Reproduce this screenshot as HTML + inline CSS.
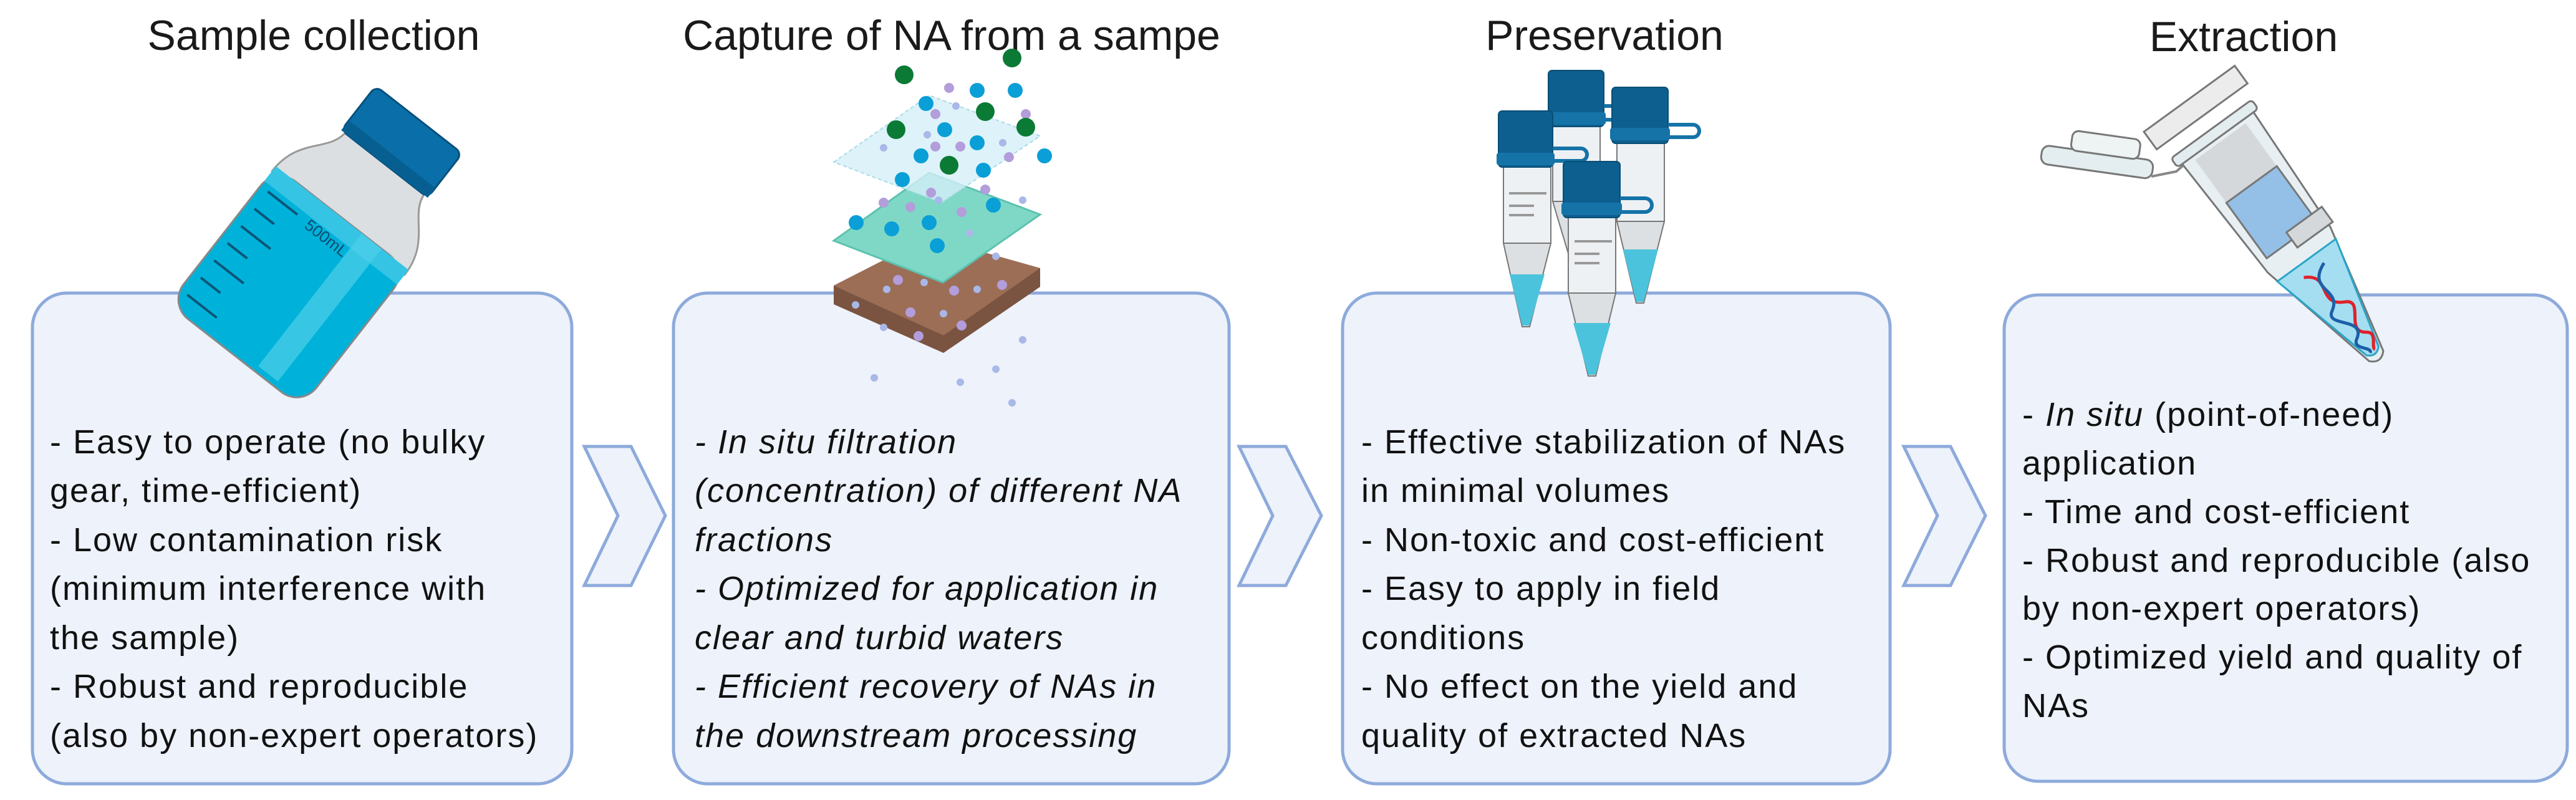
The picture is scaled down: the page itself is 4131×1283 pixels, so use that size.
<!DOCTYPE html>
<html><head><meta charset="utf-8"><style>
html,body{margin:0;padding:0;background:#fff}
svg{display:block}
</style></head><body>
<svg width="4131" height="1283" viewBox="0 0 4131 1283" xmlns="http://www.w3.org/2000/svg">
<rect width="4131" height="1283" fill="#fff"/>
<g font-family="Liberation Sans, sans-serif" font-size="68" fill="#1a1a1a" text-anchor="middle">
<text x="503" y="80">Sample collection</text>
<text x="1526" y="80">Capture of NA from a sampe</text>
<text x="2573" y="80">Preservation</text>
<text x="3598" y="82">Extraction</text>
</g>
<g fill="#edf2fb" stroke="#8eaadb" stroke-width="5">
<rect x="52" y="470" width="865" height="787" rx="55"/>
<rect x="1080" y="470" width="891" height="787" rx="55"/>
<rect x="2153" y="470" width="878" height="787" rx="55"/>
<rect x="3214" y="473" width="903" height="780" rx="55"/>
<polygon points="937,716 1012,716 1067,827 1012,939 937,939 991,827"/>
<polygon points="1987,716 2062,716 2119,827 2062,939 1987,939 2041,827"/>
<polygon points="3053,716 3128,716 3184,827 3128,939 3053,939 3107,827"/>
</g>

<!-- Bottle -->
<g transform="translate(518,389) rotate(38)">
<path d="M-135,-40 C-135,-110 -80,-120 -80,-165 L80,-165 C80,-120 135,-110 135,-40 Z" fill="#dcdfe1" stroke="#999" stroke-width="3"/>
<rect x="-135" y="-50" width="270" height="280" rx="40" fill="#00b2da" stroke="#888" stroke-width="3"/>
<rect x="-135" y="-50" width="270" height="30" fill="#35c4e4"/>
<rect x="40" y="-50" width="40" height="270" fill="#4fd0ea" opacity="0.7"/>
<g stroke="#0a5577" stroke-width="4">
<line x1="-120" y1="-10" x2="-60" y2="-10"/><line x1="-120" y1="25" x2="-80" y2="25"/>
<line x1="-120" y1="60" x2="-60" y2="60"/><line x1="-120" y1="95" x2="-80" y2="95"/>
<line x1="-120" y1="130" x2="-60" y2="130"/><line x1="-120" y1="165" x2="-80" y2="165"/>
<line x1="-120" y1="200" x2="-60" y2="200"/>
</g>
<text x="-40" y="0" font-family="Liberation Sans, sans-serif" font-size="26" fill="#0a4d70">500mL</text>
<rect x="-88" y="-250" width="176" height="90" rx="12" fill="#0a6fa8" stroke="#07507a" stroke-width="3"/>
<rect x="-88" y="-180" width="176" height="20" fill="#075f91"/>
</g>

<!-- Filter stack -->
<g>
<polygon points="1337,458 1490,380 1668,430 1668,460 1513,566 1337,488" fill="#7a5440"/>
<polygon points="1337,458 1490,380 1668,430 1513,538" fill="#9c6e56"/>
<polygon points="1337,386 1490,277 1668,344 1512,453" fill="#7fd8c6" stroke="#5cc2af" stroke-width="3"/>
<polygon points="1337,260 1490,153 1668,218 1510,325" fill="#d5eff7" fill-opacity="0.8" stroke="#a8dbe8" stroke-width="2" stroke-dasharray="6 4"/>
<g fill="#a8b8e8">
<circle cx="1533" cy="170" r="6"/><circle cx="1487" cy="216" r="6"/><circle cx="1417" cy="237" r="6"/><circle cx="1608" cy="229" r="6"/><circle cx="1505" cy="321" r="6"/><circle cx="1640" cy="321" r="6"/><circle cx="1555" cy="374" r="6"/><circle cx="1597" cy="411" r="6"/><circle cx="1482" cy="453" r="6"/><circle cx="1422" cy="464" r="6"/><circle cx="1567" cy="464" r="6"/><circle cx="1372" cy="489" r="6"/><circle cx="1513" cy="503" r="6"/><circle cx="1417" cy="525" r="6"/><circle cx="1640" cy="545" r="6"/><circle cx="1597" cy="592" r="6"/><circle cx="1402" cy="606" r="6"/><circle cx="1540" cy="613" r="6"/><circle cx="1623" cy="646" r="6"/>
</g>
<g fill="#b39ddb">
<circle cx="1522" cy="141" r="8"/><circle cx="1500" cy="183" r="8"/><circle cx="1645" cy="183" r="8"/><circle cx="1500" cy="235" r="8"/><circle cx="1540" cy="235" r="8"/><circle cx="1618" cy="252" r="8"/><circle cx="1493" cy="309" r="8"/><circle cx="1580" cy="304" r="8"/><circle cx="1417" cy="325" r="8"/><circle cx="1460" cy="332" r="8"/><circle cx="1542" cy="340" r="8"/><circle cx="1440" cy="449" r="8"/><circle cx="1530" cy="466" r="8"/><circle cx="1607" cy="457" r="8"/><circle cx="1460" cy="501" r="8"/><circle cx="1542" cy="522" r="8"/><circle cx="1473" cy="539" r="8"/>
</g>
<g fill="#0a9fd6">
<circle cx="1567" cy="145" r="12"/><circle cx="1628" cy="145" r="12"/><circle cx="1485" cy="166" r="12"/><circle cx="1515" cy="208" r="12"/><circle cx="1567" cy="229" r="12"/><circle cx="1477" cy="250" r="12"/><circle cx="1577" cy="273" r="12"/><circle cx="1675" cy="250" r="12"/><circle cx="1447" cy="288" r="12"/><circle cx="1593" cy="329" r="12"/><circle cx="1373" cy="357" r="12"/><circle cx="1430" cy="367" r="12"/><circle cx="1490" cy="357" r="12"/><circle cx="1503" cy="394" r="12"/>
</g>
<g fill="#0b7a35">
<circle cx="1623" cy="93" r="15"/><circle cx="1450" cy="120" r="15"/><circle cx="1580" cy="179" r="15"/><circle cx="1437" cy="208" r="15"/><circle cx="1645" cy="204" r="15"/><circle cx="1522" cy="265" r="15"/>
</g>
</g>

<!-- Preservation tubes -->
<g stroke="#777" stroke-width="2">
<!-- B -->
<rect x="2490" y="203" width="76" height="120" fill="#eef1f4"/>
<path d="M2490,323 L2566,323 L2528,450 Z" fill="#dde0e3"/>
<rect x="2483" y="113" width="89" height="90" rx="6" fill="#0d5f8f" stroke="#0a4e75"/>
<rect x="2480" y="180" width="95" height="20" rx="4" fill="#1573a8" stroke="none"/>
<path d="M2572,170 h20 a10,10 0 0 1 0,22 h-20" fill="none" stroke="#1573a8" stroke-width="6"/>
<!-- C -->
<rect x="2593" y="230" width="76" height="125" fill="#eef1f4"/>
<path d="M2593,355 L2669,355 L2636,486 L2624,486 Z" fill="#dde0e3"/>
<path d="M2603,400 L2659,400 L2636,484 L2624,484 Z" fill="#4cc3dc" stroke="none"/>
<rect x="2585" y="140" width="90" height="90" rx="6" fill="#0d5f8f" stroke="#0a4e75"/>
<rect x="2582" y="205" width="96" height="20" rx="4" fill="#1573a8" stroke="none"/>
<path d="M2675,200 h40 a10,10 0 0 1 0,20 h-40" fill="none" stroke="#1573a8" stroke-width="6"/>
<!-- A -->
<rect x="2411" y="268" width="76" height="122" fill="#eef1f4"/>
<path d="M2411,390 L2487,390 L2453,524 L2441,524 Z" fill="#dde0e3"/>
<path d="M2421,440 L2477,440 L2453,522 L2441,522 Z" fill="#4cc3dc" stroke="none"/>
<g stroke="#999" stroke-width="4"><line x1="2420" y1="310" x2="2480" y2="310"/><line x1="2420" y1="330" x2="2460" y2="330"/><line x1="2420" y1="345" x2="2460" y2="345"/></g>
<rect x="2403" y="178" width="87" height="90" rx="6" fill="#0d5f8f" stroke="#0a4e75"/>
<rect x="2400" y="245" width="93" height="20" rx="4" fill="#1573a8" stroke="none"/>
<path d="M2490,238 h45 a10,10 0 0 1 0,20 h-45" fill="none" stroke="#1573a8" stroke-width="6"/>
<!-- D -->
<rect x="2515" y="349" width="76" height="121" fill="#eef1f4"/>
<path d="M2515,470 L2591,470 L2559,603 L2547,603 Z" fill="#dde0e3"/>
<path d="M2523,518 L2583,518 L2559,601 L2547,601 Z" fill="#4cc3dc" stroke="none"/>
<g stroke="#999" stroke-width="4"><line x1="2525" y1="387" x2="2585" y2="387"/><line x1="2525" y1="407" x2="2565" y2="407"/><line x1="2525" y1="422" x2="2565" y2="422"/></g>
<rect x="2507" y="259" width="91" height="90" rx="6" fill="#0d5f8f" stroke="#0a4e75"/>
<rect x="2504" y="325" width="97" height="20" rx="4" fill="#1573a8" stroke="none"/>
<path d="M2598,318 h40 a10,10 0 0 1 0,22 h-40" fill="none" stroke="#1573a8" stroke-width="6"/>
</g>

<!-- Extraction tube -->
<g transform="translate(3365,245) rotate(8)">
<rect x="-90" y="0" width="180" height="30" rx="12" fill="#e4eef0" stroke="#777" stroke-width="3"/>
<rect x="-45" y="-30" width="110" height="32" rx="10" fill="#eef4f4" stroke="#777" stroke-width="3"/>
</g>
<path d="M3450,283 L3490,275 L3505,262" fill="none" stroke="#888" stroke-width="4"/>
<g transform="translate(3552,215) rotate(-36)" stroke="#777" stroke-width="3">
<rect x="-90" y="-70" width="180" height="35" fill="#ececec"/>
<path d="M-71,0 L71,0 L62,230 L14,440 Q0,455 -14,440 L-62,230 Z" fill="#e7eff2"/>
<rect x="-50" y="15" width="100" height="90" fill="#d5d8db" stroke="none"/>
<rect x="-50" y="100" width="100" height="110" fill="#94bfe6"/>
<rect x="0" y="195" width="70" height="30" fill="#d5d8db"/>
<path d="M-58,250 L58,250 L12,430 Q0,442 -12,430 Z" fill="#a5def0" stroke="#2aa5c7"/>
<rect x="-80" y="-10" width="160" height="18" rx="6" fill="#e3edf0"/>
<path d="M-20,270 C20,290 -30,320 10,340 C40,355 -20,380 10,400 C25,410 0,425 5,430" fill="none" stroke="#e0202a" stroke-width="5"/>
<path d="M20,270 C-30,290 20,320 -15,340 C-40,355 25,380 -10,400 C-25,410 5,425 -5,430" fill="none" stroke="#1b5fa8" stroke-width="5"/>
</g>

<!-- Body text -->
<g font-family="Liberation Sans, sans-serif" font-size="54" fill="#111" style="letter-spacing:2px">
<text x="80" y="727">- Easy to operate (no bulky</text>
<text x="80" y="805">gear, time-efficient)</text>
<text x="80" y="884">- Low contamination risk</text>
<text x="80" y="962">(minimum interference with</text>
<text x="80" y="1041">the sample)</text>
<text x="80" y="1119">- Robust and reproducible</text>
<text x="80" y="1198">(also by non-expert operators)</text>

<g font-style="italic">
<text x="1114" y="727">- In situ filtration</text>
<text x="1114" y="805">(concentration) of different NA</text>
<text x="1114" y="884">fractions</text>
<text x="1114" y="962">- Optimized for application in</text>
<text x="1114" y="1041">clear and turbid waters</text>
<text x="1114" y="1119">- Efficient recovery of NAs in</text>
<text x="1114" y="1198">the downstream processing</text>
</g>

<text x="2183" y="727">- Effective stabilization of NAs</text>
<text x="2183" y="805">in minimal volumes</text>
<text x="2183" y="884">- Non-toxic and cost-efficient</text>
<text x="2183" y="962">- Easy to apply in field</text>
<text x="2183" y="1041">conditions</text>
<text x="2183" y="1119">- No effect on the yield and</text>
<text x="2183" y="1198">quality of extracted NAs</text>

<text x="3243" y="683">- <tspan font-style="italic">In situ</tspan> (point-of-need)</text>
<text x="3243" y="761">application</text>
<text x="3243" y="839">- Time and cost-efficient</text>
<text x="3243" y="917">- Robust and reproducible (also</text>
<text x="3243" y="994">by non-expert operators)</text>
<text x="3243" y="1072">- Optimized yield and quality of</text>
<text x="3243" y="1150">NAs</text>
</g>
</svg>
</body></html>
